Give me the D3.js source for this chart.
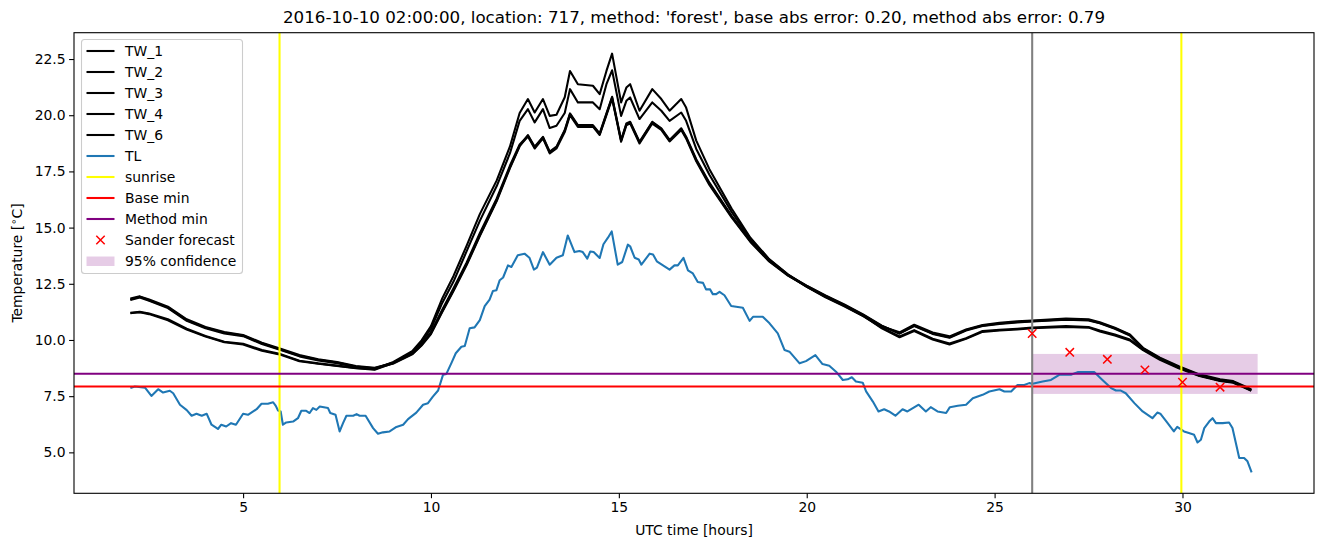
<!DOCTYPE html>
<html><head><meta charset="utf-8">
<script src="https://cdn.jsdelivr.net/npm/d3@7/dist/d3.min.js"></script>
<style>body{margin:0;background:#fff}svg{font-family:"DejaVu Sans",sans-serif}</style>
</head><body><svg id="c" width="1324" height="547"></svg>
<script>
// ---------------- data ----------------
const titleText = "2016-10-10 02:00:00, location: 717, method: 'forest', base abs error: 0.20, method abs error: 0.79";
const xTicks = [5, 10, 15, 20, 25, 30];
const yTicks = [5.0, 7.5, 10.0, 12.5, 15.0, 17.5, 20.0, 22.5];

const twTime = [2.0,2.25,2.5,3.0,3.5,4.0,4.5,5.0,5.5,6.0,6.5,7.0,7.5,8.0,8.5,9.0,9.5,9.75,10.0,10.3,
10.6,10.95,11.3,11.75,12.1,12.36,12.58,12.76,12.98,13.16,13.34,13.56,13.7,13.91,14.31,14.49,14.67,14.82,15.06,15.2,
15.3,15.55,15.89,16.13,16.35,16.66,16.79,17.06,17.41,18.0,18.5,19.0,19.5,20.0,20.5,21.0,21.5,22.0,22.47,22.86,
23.35,23.8,24.24,24.68,25.13,25.6,26.0,26.9,27.5,27.8,28.2,28.6,28.95,29.4,29.9,30.45,31.0,31.35,31.7,31.83];

const TW_1 = [11.21,11.25,11.18,10.92,10.50,10.18,9.92,9.83,9.55,9.37,9.08,8.96,8.86,8.76,8.70,
9.02,9.50,9.98,10.62,11.85,12.85,14.20,15.60,17.10,18.60,20.10,
20.72,20.12,20.72,19.97,20.02,20.80,21.97,21.38,21.31,20.94,21.97,22.74,20.57,21.23,21.38,20.20,21.16,20.72,20.20,20.72,20.34,18.87,17.60,
15.85,14.55,13.60,12.92,12.38,11.92,11.52,11.08,10.52,
10.12,10.40,10.02,9.80,10.05,10.36,10.42,10.47,10.52,10.58,10.55,10.38,10.20,9.98,9.55,9.12,8.74,8.40,8.18,8.10,7.84,7.74];
const TW_2 = [11.19,11.23,11.15,10.88,10.46,10.15,9.90,9.80,9.52,9.34,9.05,8.94,8.84,8.74,8.68,
8.98,9.45,9.90,10.50,11.65,12.60,13.95,15.30,16.85,18.30,19.75,
20.27,19.68,20.27,19.43,19.53,20.10,21.16,20.57,20.57,20.27,21.38,22.00,19.97,20.64,20.79,19.83,20.57,20.20,19.75,20.12,19.75,18.50,17.35,
15.70,14.50,13.58,12.90,12.36,11.90,11.50,11.06,10.55,
10.16,10.44,10.06,9.84,10.08,10.40,10.45,10.50,10.55,10.62,10.58,10.42,10.24,10.02,9.58,9.15,8.77,8.42,8.20,8.12,7.86,7.76];
const TW_3 = [11.80,11.92,11.77,11.45,10.88,10.55,10.32,10.20,9.85,9.58,9.30,9.12,9.00,8.82,8.74,
9.00,9.42,9.82,10.35,11.35,12.30,13.45,14.75,16.30,17.75,18.70,
19.09,18.57,19.01,18.35,18.57,19.31,20.05,19.53,19.53,19.16,20.05,20.79,18.87,19.60,19.68,18.79,19.68,19.39,18.87,19.39,19.01,18.00,16.95,
15.50,14.40,13.52,12.88,12.40,11.96,11.56,11.12,10.62,
10.30,10.64,10.29,10.12,10.44,10.64,10.73,10.80,10.84,10.92,10.89,10.76,10.52,10.22,9.62,9.18,8.80,8.44,8.22,8.14,7.88,7.78];
const TW_4 = [11.84,11.94,11.80,11.48,10.92,10.58,10.35,10.22,9.88,9.61,9.33,9.14,9.02,8.84,8.76,
8.97,9.38,9.78,10.30,11.28,12.22,13.38,14.66,16.22,17.68,18.64,
19.05,18.52,18.97,18.30,18.52,19.25,20.00,19.48,19.49,19.12,20.00,20.74,18.82,19.55,19.64,18.74,19.63,19.35,18.83,19.34,18.97,17.95,16.90,
15.45,14.36,13.49,12.86,12.38,11.94,11.54,11.10,10.60,
10.34,10.68,10.33,10.16,10.47,10.67,10.76,10.83,10.87,10.95,10.92,10.79,10.55,10.25,9.65,9.21,8.83,8.47,8.25,8.17,7.91,7.80];
const TW_6 = [11.78,11.89,11.74,11.42,10.85,10.52,10.29,10.17,9.82,9.55,9.27,9.09,8.97,8.80,8.72,
8.95,9.36,9.75,10.26,11.24,12.18,13.33,14.62,16.18,17.64,18.62,
19.12,18.60,19.04,18.38,18.60,19.34,20.08,19.56,19.56,19.19,20.08,20.82,18.90,19.63,19.71,18.82,19.71,19.42,18.90,19.42,19.04,18.04,17.00,
15.52,14.42,13.54,12.90,12.42,11.98,11.58,11.14,10.64,
10.28,10.62,10.27,10.10,10.42,10.62,10.71,10.78,10.82,10.90,10.87,10.74,10.50,10.20,9.60,9.16,8.78,8.42,8.20,8.12,7.86,7.76];

const tlTime = [2.0,2.12,2.39,2.56,2.74,2.87,3.05,3.14,3.32,3.5,3.63,3.76,3.9,4.03,4.16,4.33,4.42,4.55,4.68,4.81,
5.0,5.13,5.36,5.49,5.66,5.80,5.87,5.93,6.0,6.06,6.15,6.33,6.46,6.55,6.68,6.77,6.86,6.95,7.04,7.26,
7.32,7.46,7.57,7.66,7.75,7.93,8.02,8.1,8.26,8.46,8.59,8.72,8.90,9.08,9.26,9.39,9.61,9.79,9.92,10.05,
10.19,10.32,10.41,10.54,10.66,10.81,10.9,11.03,11.16,11.30,11.43,11.56,11.65,11.74,11.83,11.92,12.05,12.14,12.31,12.49,
12.62,12.74,12.82,12.98,13.16,13.34,13.51,13.64,13.82,13.95,14.04,14.16,14.24,14.33,14.49,14.59,14.71,14.81,14.97,15.09,
15.24,15.30,15.42,15.53,15.60,15.82,15.91,16.01,16.35,16.48,16.57,16.72,16.84,16.97,17.10,17.24,17.32,17.43,17.50,17.59,
17.68,17.81,17.99,18.30,18.48,18.57,18.83,19.01,19.23,19.41,19.54,19.81,19.98,20.23,20.42,20.60,20.78,20.96,21.09,21.20,
21.31,21.49,21.58,21.76,21.91,22.06,22.19,22.36,22.55,22.68,22.98,23.17,23.30,23.48,23.71,23.81,24.02,24.24,24.42,24.68,
24.86,25.13,25.26,25.44,25.61,25.79,25.92,26.01,26.28,26.5,26.72,27.03,27.21,27.65,27.87,28.10,28.23,28.36,28.49,28.72,
28.94,29.20,29.33,29.41,29.59,29.77,29.86,30.04,30.17,30.31,30.40,30.49,30.58,30.71,30.80,30.89,31.07,31.24,31.33,31.44,
31.51,31.64,31.73,31.84];
const tlValue = [7.86,7.93,7.88,7.51,7.81,7.66,7.74,7.63,7.12,6.88,6.63,6.72,6.63,6.72,6.23,6.04,6.23,6.15,6.30,6.23,
6.72,6.67,6.92,7.16,7.16,7.23,7.07,6.86,6.82,6.23,6.33,6.37,6.52,6.85,6.85,6.75,6.97,6.89,7.04,6.97,
6.75,6.67,5.93,6.30,6.63,6.63,6.70,6.63,6.63,6.08,5.83,5.89,5.93,6.13,6.23,6.48,6.77,7.12,7.19,7.48,
7.75,8.45,8.49,8.96,9.41,9.70,9.73,10.52,10.56,10.88,11.51,11.80,12.18,12.21,12.66,12.78,13.32,13.25,13.77,13.84,
13.66,13.13,13.22,13.91,13.35,13.66,13.77,14.65,13.91,13.96,13.91,13.62,13.94,13.91,13.65,14.26,14.55,14.83,13.35,13.47,
14.24,14.17,13.66,13.58,13.35,13.84,13.80,13.50,13.13,13.32,13.32,13.65,13.10,12.96,12.58,12.54,12.25,12.25,12.04,12.04,
12.14,11.99,11.51,11.43,10.85,11.03,11.03,10.74,10.29,9.55,9.48,8.96,9.06,9.33,8.93,8.85,8.59,8.22,8.25,8.34,
8.15,8.10,7.71,7.26,6.82,6.92,6.82,6.63,6.92,6.82,7.12,6.82,7.01,6.82,6.75,7.01,7.07,7.12,7.41,7.56,
7.71,7.81,7.71,7.71,8.00,8.00,8.08,8.05,8.15,8.22,8.45,8.45,8.57,8.57,8.22,7.86,7.75,7.75,7.63,7.19,
6.82,6.52,6.77,6.72,6.33,5.93,6.13,5.93,5.86,5.78,5.44,5.56,6.08,6.37,6.52,6.30,6.30,6.33,6.08,5.27,
4.75,4.75,4.60,4.11];

const sunriseTimes = [5.97, 29.97];
const issueTime = 26;
const baseMin = 7.93;
const methodMin = 8.50;
const sanderTime = [26, 27, 28, 29, 30, 31];
const sanderValue = [10.29, 9.45, 9.14, 8.67, 8.12, 7.90];
const confStart = 26, confEnd = 32, confLow = 7.60, confHigh = 9.38;

const twNames = ["TW_1", "TW_2", "TW_3", "TW_4", "TW_6"];
const twSeries = [TW_1, TW_2, TW_3, TW_4, TW_6];
const legendLabels = ["TW_1","TW_2","TW_3","TW_4","TW_6","TL","sunrise","Base min","Method min","Sander forecast","95% confidence"];

// ---------------- layout ----------------
const svg = d3.select("#c");
const L = 74, R = 1314, T = 32.7, B = 493.3;
const FS = 13.9;

const xMin = d3.min(twTime), xMax = confEnd;
const xPad = (xMax - xMin) * 0.05;
const allY = [...twSeries.flat(), ...tlValue];
const yLo = d3.min(allY), yHi = d3.max(allY), yPad = (yHi - yLo) * 0.05;
const x = d3.scaleLinear().domain([xMin - xPad, xMax + xPad]).range([L, R]);
const y = d3.scaleLinear().domain([yLo - yPad, yHi + yPad]).range([B, T]);

svg.append("defs").append("clipPath").attr("id", "clip")
  .append("rect").attr("x", L).attr("y", T).attr("width", R - L).attr("height", B - T);
const g = svg.append("g").attr("clip-path", "url(#clip)");

// confidence band
g.append("rect").attr("x", x(confStart)).attr("width", x(confEnd) - x(confStart))
  .attr("y", y(confHigh)).attr("height", y(confLow) - y(confHigh))
  .attr("fill", "purple").attr("fill-opacity", 0.2);

const line = d3.line().x(d => x(d[0])).y(d => y(d[1]));
const LW = 2.08;
twSeries.forEach(s => {
  g.append("path").datum(twTime.map((t, i) => [t, s[i]])).attr("d", line)
    .attr("fill", "none").attr("stroke", "black").attr("stroke-width", LW).attr("stroke-linejoin", "round");
});
g.append("path").datum(tlTime.map((t, i) => [t, tlValue[i]])).attr("d", line)
  .attr("fill", "none").attr("stroke", "#1f77b4").attr("stroke-width", LW).attr("stroke-linejoin", "round");

sunriseTimes.forEach(t => {
  g.append("line").attr("x1", x(t)).attr("x2", x(t)).attr("y1", T).attr("y2", B)
    .attr("stroke", "yellow").attr("stroke-width", LW);
});
g.append("line").attr("x1", L).attr("x2", R).attr("y1", y(baseMin)).attr("y2", y(baseMin))
  .attr("stroke", "red").attr("stroke-width", LW);
g.append("line").attr("x1", L).attr("x2", R).attr("y1", y(methodMin)).attr("y2", y(methodMin))
  .attr("stroke", "purple").attr("stroke-width", LW);
g.append("line").attr("x1", x(issueTime)).attr("x2", x(issueTime)).attr("y1", T).attr("y2", B)
  .attr("stroke", "gray").attr("stroke-width", LW);

const xm = 4.2;
function cross(sel, cx, cy) {
  sel.append("path").attr("d", `M${cx - xm},${cy - xm}L${cx + xm},${cy + xm}M${cx - xm},${cy + xm}L${cx + xm},${cy - xm}`)
    .attr("stroke", "red").attr("stroke-width", 1.5).attr("fill", "none");
}
sanderTime.forEach((t, i) => cross(g, x(t), y(sanderValue[i])));

// axes
const xAxis = d3.axisBottom(x).tickValues(xTicks).tickSize(4.9).tickPadding(3.5).tickFormat(d3.format("d"));
const yAxis = d3.axisLeft(y).tickValues(yTicks).tickSize(4.9).tickPadding(3.5).tickFormat(d3.format(".1f"));
const gx = svg.append("g").attr("transform", `translate(0,${B})`).call(xAxis);
const gy = svg.append("g").attr("transform", `translate(${L},0)`).call(yAxis);
[gx, gy].forEach(a => {
  a.select(".domain").remove();
  a.selectAll("line").attr("stroke", "black").attr("stroke-width", 1.1);
  a.selectAll("text").attr("font-size", FS).attr("fill", "black").attr("font-family", "DejaVu Sans");
});
svg.append("rect").attr("x", L).attr("y", T).attr("width", R - L).attr("height", B - T)
  .attr("fill", "none").attr("stroke", "black").attr("stroke-width", 1.1);

// labels
svg.append("text").attr("x", (L + R) / 2).attr("y", 23).attr("text-anchor", "middle")
  .attr("font-size", 16.7).text(titleText);
svg.append("text").attr("x", (L + R) / 2).attr("y", 535).attr("text-anchor", "middle")
  .attr("font-size", FS).text("UTC time [hours]");
const yl = svg.append("text").attr("transform", `translate(22,${(T + B) / 2}) rotate(-90)`)
  .attr("text-anchor", "middle").attr("font-size", FS);
yl.append("tspan").text("Temperature [");
yl.append("tspan").attr("font-size", 10).attr("dy", -5).text("\u2218");
yl.append("tspan").attr("dy", 5).text("C]");

// legend
const lg = svg.append("g");
lg.append("rect").attr("x", 81.5).attr("y", 39.5).attr("width", 161).attr("height", 234).attr("rx", 3)
  .attr("fill", "white").attr("fill-opacity", 0.8).attr("stroke", "#cccccc").attr("stroke-width", 1.1);
const legendColors = ["black","black","black","black","black","#1f77b4","yellow","red","purple",null,null];
legendLabels.forEach((lab, i) => {
  const cy = 51 + i * 21;
  if (i < 9) {
    lg.append("line").attr("x1", 86.5).attr("x2", 114.5).attr("y1", cy).attr("y2", cy)
      .attr("stroke", legendColors[i]).attr("stroke-width", LW);
  } else if (i === 9) {
    cross(lg, 100.5, cy);
  } else {
    lg.append("rect").attr("x", 86.5).attr("y", cy - 4.5).attr("width", 28).attr("height", 9.5)
      .attr("fill", "purple").attr("fill-opacity", 0.2);
  }
  lg.append("text").attr("x", 125).attr("y", cy + 5).attr("font-size", FS).text(lab);
});
</script></body></html>
